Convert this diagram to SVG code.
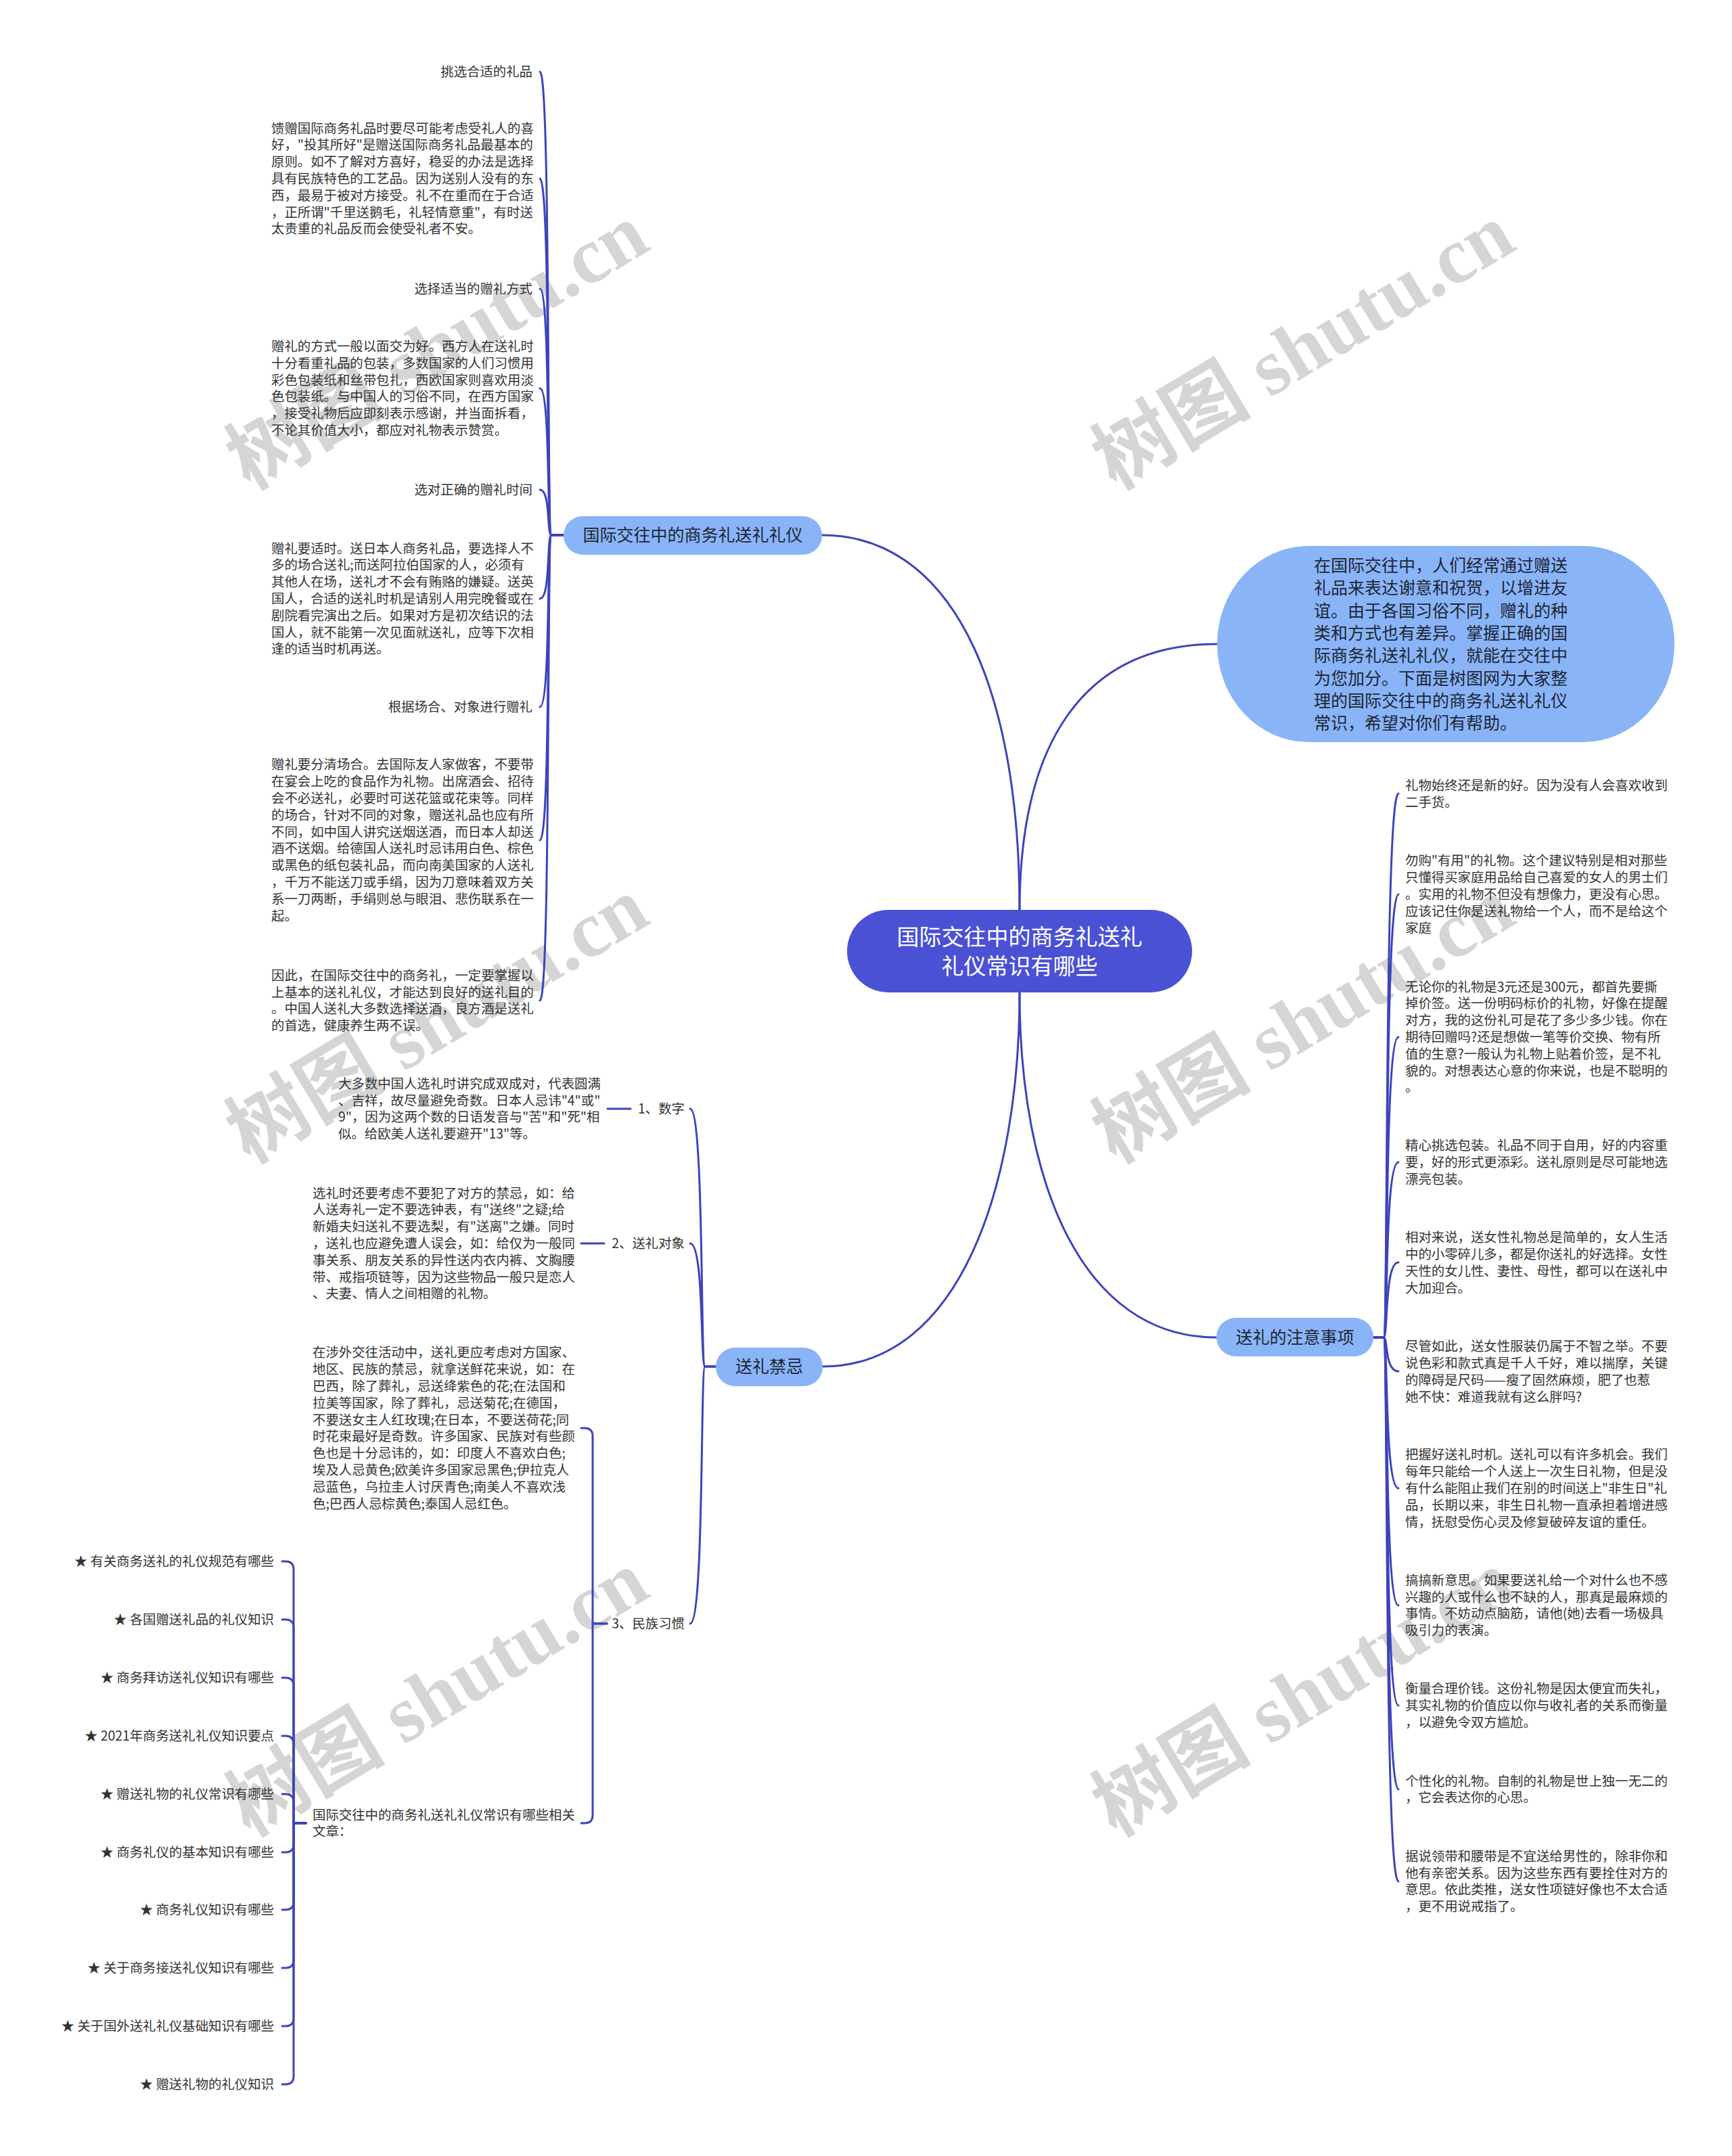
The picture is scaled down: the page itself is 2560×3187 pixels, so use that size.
<svg xmlns="http://www.w3.org/2000/svg" width="2560" height="3187" viewBox="0 0 2560 3187">
<style>
.wm{font-family:"Liberation Serif","Noto Sans CJK SC",serif;font-size:118px;font-weight:bold;fill:#d5d5d5;text-anchor:middle}
.ln{fill:none;stroke:#3d44bb;stroke-width:3;stroke-linecap:round;stroke-linejoin:round}
.t{font-family:"Noto Sans CJK SC","Liberation Sans",sans-serif;font-size:19.4px;fill:#333333}
.r{text-anchor:end}
.bn{fill:#8ab4f8}
.bt{font-family:"Noto Sans CJK SC","Liberation Sans",sans-serif;font-size:25px;fill:#1d2633;text-anchor:middle}
.ct{font-family:"Noto Sans CJK SC","Liberation Sans",sans-serif;font-size:33px;fill:#ffffff;text-anchor:middle}
.it{font-family:"Noto Sans CJK SC","Liberation Sans",sans-serif;font-size:25px;fill:#1d2633}
</style>
<rect width="2560" height="3187" fill="#ffffff"/>
<g id="watermarks">
<text class="wm" transform="translate(646,512) rotate(-31)" x="0" y="40">树图 shutu.cn</text>
<text class="wm" transform="translate(1926,512) rotate(-31)" x="0" y="40">树图 shutu.cn</text>
<text class="wm" transform="translate(646,1508) rotate(-31)" x="0" y="40">树图 shutu.cn</text>
<text class="wm" transform="translate(1926,1508) rotate(-31)" x="0" y="40">树图 shutu.cn</text>
<text class="wm" transform="translate(646,2503) rotate(-31)" x="0" y="40">树图 shutu.cn</text>
<text class="wm" transform="translate(1926,2503) rotate(-31)" x="0" y="40">树图 shutu.cn</text>
</g>
<g id="connectors">
<path class="ln" d="M1507,1346 C1507,1000 1400,791 1215,791"/>
<path class="ln" d="M1507,1346 C1507,1100 1600,952 1799,952"/>
<path class="ln" d="M1507,1467 C1507,1750 1420,2020 1216,2020"/>
<path class="ln" d="M1507,1467 C1507,1750 1600,1977 1798,1977"/>
<path class="ln" d="M833,791 H815 C808,791 814,106 798,106"/>
<path class="ln" d="M833,791 H815 C808,791 814,264 798,264"/>
<path class="ln" d="M833,791 H815 C808,791 814,427 798,427"/>
<path class="ln" d="M833,791 H815 C808,791 814,574 798,574"/>
<path class="ln" d="M833,791 H815 C808,791 814,724 798,724"/>
<path class="ln" d="M833,791 H815 C808,791 814,885 798,885"/>
<path class="ln" d="M833,791 H815 C808,791 814,1045 798,1045"/>
<path class="ln" d="M833,791 H815 C808,791 814,1242 798,1242"/>
<path class="ln" d="M833,791 H815 C808,791 814,1479 798,1479"/>
<path class="ln" d="M2030,1977 H2045 C2052,1977 2046,1173 2067,1173"/>
<path class="ln" d="M2030,1977 H2045 C2052,1977 2046,1322 2067,1322"/>
<path class="ln" d="M2030,1977 H2045 C2052,1977 2046,1533 2067,1533"/>
<path class="ln" d="M2030,1977 H2045 C2052,1977 2046,1718 2067,1718"/>
<path class="ln" d="M2030,1977 H2045 C2052,1977 2046,1866 2067,1866"/>
<path class="ln" d="M2030,1977 H2045 C2052,1977 2046,2027 2067,2027"/>
<path class="ln" d="M2030,1977 H2045 C2052,1977 2046,2200 2067,2200"/>
<path class="ln" d="M2030,1977 H2045 C2052,1977 2046,2373 2067,2373"/>
<path class="ln" d="M2030,1977 H2045 C2052,1977 2046,2521 2067,2521"/>
<path class="ln" d="M2030,1977 H2045 C2052,1977 2046,2645 2067,2645"/>
<path class="ln" d="M2030,1977 H2045 C2052,1977 2046,2781 2067,2781"/>
<path class="ln" d="M1058,2020 H1042 C1035,2020 1041,1639 1020,1639"/>
<path class="ln" d="M1058,2020 H1042 C1035,2020 1041,1838 1020,1838"/>
<path class="ln" d="M1058,2020 H1042 C1035,2020 1041,2400 1020,2400"/>
<path class="ln" d="M932,1639 H898"/>
<path class="ln" d="M893,1838 H859"/>
<path class="ln" d="M897,2400 H876 V2123 Q876,2111 864,2111 H859"/>
<path class="ln" d="M897,2400 H876 V2683 Q876,2695 864,2695 H859"/>
<path class="ln" d="M452,2695 H434 V2320 Q434,2308 422,2308 H417"/>
<path class="ln" d="M452,2695 H434 V2406 Q434,2394 422,2394 H417"/>
<path class="ln" d="M452,2695 H434 V2492 Q434,2480 422,2480 H417"/>
<path class="ln" d="M452,2695 H434 V2578 Q434,2566 422,2566 H417"/>
<path class="ln" d="M452,2695 H434 V2664 Q434,2652 422,2652 H417"/>
<path class="ln" d="M452,2695 H434 V2726 Q434,2738 422,2738 H417"/>
<path class="ln" d="M452,2695 H434 V2811 Q434,2823 422,2823 H417"/>
<path class="ln" d="M452,2695 H434 V2897 Q434,2909 422,2909 H417"/>
<path class="ln" d="M452,2695 H434 V2983 Q434,2995 422,2995 H417"/>
<path class="ln" d="M452,2695 H434 V3069 Q434,3081 422,3081 H417"/>
</g>
<g id="node-center">
<rect x="1252" y="1345" width="510" height="122" rx="61" fill="#4a51d4"/>
<text class="ct"><tspan x="1507" y="1397">国际交往中的商务礼送礼</tspan><tspan x="1507" y="1440">礼仪常识有哪些</tspan></text>
</g>
<g id="node-intro">
<rect x="1799" y="807" width="676" height="290" rx="135" ry="145" class="bn"/>
<text class="it"><tspan x="1942" y="845">在国际交往中，人们经常通过赠送</tspan><tspan x="1942" y="878.3">礼品来表达谢意和祝贺，以增进友</tspan><tspan x="1942" y="911.6">谊。由于各国习俗不同，赠礼的种</tspan><tspan x="1942" y="944.9">类和方式也有差异。掌握正确的国</tspan><tspan x="1942" y="978.2">际商务礼送礼礼仪，就能在交往中</tspan><tspan x="1942" y="1011.5">为您加分。下面是树图网为大家整</tspan><tspan x="1942" y="1044.8">理的国际交往中的商务礼送礼礼仪</tspan><tspan x="1942" y="1078.1">常识，希望对你们有帮助。</tspan></text>
</g>
<g id="node-b1">
<rect x="833" y="763" width="382" height="57" rx="28.5" class="bn"/>
<text class="bt" x="1024" y="800">国际交往中的商务礼送礼礼仪</text>
</g>
<g id="b1-c1"><text class="t r" x="787" y="113">挑选合适的礼品</text></g>
<g id="b1-c2"><text class="t"><tspan x="401" y="196.6">馈赠国际商务礼品时要尽可能考虑受礼人的喜</tspan><tspan x="401" y="221.4">好，"投其所好"是赠送国际商务礼品最基本的</tspan><tspan x="401" y="246.2">原则。如不了解对方喜好，稳妥的办法是选择</tspan><tspan x="401" y="271">具有民族特色的工艺品。因为送别人没有的东</tspan><tspan x="401" y="295.8">西，最易于被对方接受。礼不在重而在于合适</tspan><tspan x="401" y="320.6">，正所谓"千里送鹅毛，礼轻情意重"，有时送</tspan><tspan x="401" y="345.4">太贵重的礼品反而会使受礼者不安。</tspan></text></g>
<g id="b1-c3"><text class="t r" x="787" y="434">选择适当的赠礼方式</text></g>
<g id="b1-c4"><text class="t"><tspan x="401" y="519">赠礼的方式一般以面交为好。西方人在送礼时</tspan><tspan x="401" y="543.8">十分看重礼品的包装，多数国家的人们习惯用</tspan><tspan x="401" y="568.6">彩色包装纸和丝带包扎，西欧国家则喜欢用淡</tspan><tspan x="401" y="593.4">色包装纸。与中国人的习俗不同，在西方国家</tspan><tspan x="401" y="618.2">，接受礼物后应即刻表示感谢，并当面拆看，</tspan><tspan x="401" y="643">不论其价值大小，都应对礼物表示赞赏。</tspan></text></g>
<g id="b1-c5"><text class="t r" x="787" y="731">选对正确的赠礼时间</text></g>
<g id="b1-c6"><text class="t"><tspan x="401" y="817.6">赠礼要适时。送日本人商务礼品，要选择人不</tspan><tspan x="401" y="842.4">多的场合送礼;而送阿拉伯国家的人，必须有</tspan><tspan x="401" y="867.2">其他人在场，送礼才不会有贿赂的嫌疑。送英</tspan><tspan x="401" y="892">国人，合适的送礼时机是请别人用完晚餐或在</tspan><tspan x="401" y="916.8">剧院看完演出之后。如果对方是初次结识的法</tspan><tspan x="401" y="941.6">国人，就不能第一次见面就送礼，应等下次相</tspan><tspan x="401" y="966.4">逢的适当时机再送。</tspan></text></g>
<g id="b1-c7"><text class="t r" x="787" y="1052">根据场合、对象进行赠礼</text></g>
<g id="b1-c8"><text class="t"><tspan x="401" y="1137.4">赠礼要分清场合。去国际友人家做客，不要带</tspan><tspan x="401" y="1162.2">在宴会上吃的食品作为礼物。出席酒会、招待</tspan><tspan x="401" y="1187">会不必送礼，必要时可送花篮或花束等。同样</tspan><tspan x="401" y="1211.8">的场合，针对不同的对象，赠送礼品也应有所</tspan><tspan x="401" y="1236.6">不同，如中国人讲究送烟送酒，而日本人却送</tspan><tspan x="401" y="1261.4">酒不送烟。给德国人送礼时忌讳用白色、棕色</tspan><tspan x="401" y="1286.2">或黑色的纸包装礼品，而向南美国家的人送礼</tspan><tspan x="401" y="1311">，千万不能送刀或手绢，因为刀意味着双方关</tspan><tspan x="401" y="1335.8">系一刀两断，手绢则总与眼泪、悲伤联系在一</tspan><tspan x="401" y="1360.6">起。</tspan></text></g>
<g id="b1-c9"><text class="t"><tspan x="401" y="1448.8">因此，在国际交往中的商务礼，一定要掌握以</tspan><tspan x="401" y="1473.6">上基本的送礼礼仪，才能达到良好的送礼目的</tspan><tspan x="401" y="1498.4">。中国人送礼大多数选择送酒，良方酒是送礼</tspan><tspan x="401" y="1523.2">的首选，健康养生两不误。</tspan></text></g>
<g id="node-b2">
<rect x="1058" y="1992" width="158" height="57" rx="28.5" class="bn"/>
<text class="bt" x="1137" y="2029">送礼禁忌</text>
</g>
<g id="b2-c1"><text class="t r" x="1012" y="1646">1、数字</text></g>
<g id="b2-c1-p"><text class="t"><tspan x="500" y="1608.8">大多数中国人选礼时讲究成双成对，代表圆满</tspan><tspan x="500" y="1633.6">、吉祥，故尽量避免奇数。日本人忌讳"4"或"</tspan><tspan x="500" y="1658.4">9"，因为这两个数的日语发音与"苦"和"死"相</tspan><tspan x="500" y="1683.2">似。给欧美人送礼要避开"13"等。</tspan></text></g>
<g id="b2-c2"><text class="t r" x="1012" y="1845">2、送礼对象</text></g>
<g id="b2-c2-p"><text class="t"><tspan x="462" y="1770.6">选礼时还要考虑不要犯了对方的禁忌，如：给</tspan><tspan x="462" y="1795.4">人送寿礼一定不要选钟表，有"送终"之疑;给</tspan><tspan x="462" y="1820.2">新婚夫妇送礼不要选梨，有"送离"之嫌。同时</tspan><tspan x="462" y="1845">，送礼也应避免遭人误会，如：给仅为一般同</tspan><tspan x="462" y="1869.8">事关系、朋友关系的异性送内衣内裤、文胸腰</tspan><tspan x="462" y="1894.6">带、戒指项链等，因为这些物品一般只是恋人</tspan><tspan x="462" y="1919.4">、夫妻、情人之间相赠的礼物。</tspan></text></g>
<g id="b2-c3"><text class="t r" x="1012" y="2407">3、民族习惯</text></g>
<g id="b2-c3-p"><text class="t"><tspan x="462" y="2006.4">在涉外交往活动中，送礼更应考虑对方国家、</tspan><tspan x="462" y="2031.2">地区、民族的禁忌，就拿送鲜花来说，如：在</tspan><tspan x="462" y="2056">巴西，除了葬礼，忌送绛紫色的花;在法国和</tspan><tspan x="462" y="2080.8">拉美等国家，除了葬礼，忌送菊花;在德国，</tspan><tspan x="462" y="2105.6">不要送女主人红玫瑰;在日本，不要送荷花;同</tspan><tspan x="462" y="2130.4">时花束最好是奇数。许多国家、民族对有些颜</tspan><tspan x="462" y="2155.2">色也是十分忌讳的，如：印度人不喜欢白色;</tspan><tspan x="462" y="2180">埃及人忌黄色;欧美许多国家忌黑色;伊拉克人</tspan><tspan x="462" y="2204.8">忌蓝色，乌拉圭人讨厌青色;南美人不喜欢浅</tspan><tspan x="462" y="2229.6">色;巴西人忌棕黄色;泰国人忌红色。</tspan></text></g>
<g id="b2-c3-rel"><text class="t"><tspan x="462" y="2689.6">国际交往中的商务礼送礼礼仪常识有哪些相关</tspan><tspan x="462" y="2714.4">文章：</tspan></text></g>
<g id="rel-1"><text class="t r" x="405" y="2315">★ 有关商务送礼的礼仪规范有哪些</text></g>
<g id="rel-2"><text class="t r" x="405" y="2401">★ 各国赠送礼品的礼仪知识</text></g>
<g id="rel-3"><text class="t r" x="405" y="2487">★ 商务拜访送礼仪知识有哪些</text></g>
<g id="rel-4"><text class="t r" x="405" y="2573">★ 2021年商务送礼礼仪知识要点</text></g>
<g id="rel-5"><text class="t r" x="405" y="2659">★ 赠送礼物的礼仪常识有哪些</text></g>
<g id="rel-6"><text class="t r" x="405" y="2745">★ 商务礼仪的基本知识有哪些</text></g>
<g id="rel-7"><text class="t r" x="405" y="2830">★ 商务礼仪知识有哪些</text></g>
<g id="rel-8"><text class="t r" x="405" y="2916">★ 关于商务接送礼仪知识有哪些</text></g>
<g id="rel-9"><text class="t r" x="405" y="3002">★ 关于国外送礼礼仪基础知识有哪些</text></g>
<g id="rel-10"><text class="t r" x="405" y="3088">★ 赠送礼物的礼仪知识</text></g>
<g id="node-b3">
<rect x="1798" y="1948" width="232" height="57" rx="28.5" class="bn"/>
<text class="bt" x="1914" y="1986">送礼的注意事项</text>
</g>
<g id="b3-c1"><text class="t"><tspan x="2077" y="1168.1">礼物始终还是新的好。因为没有人会喜欢收到</tspan><tspan x="2077" y="1192.9">二手货。</tspan></text></g>
<g id="b3-c2"><text class="t"><tspan x="2077" y="1279.4">勿购"有用"的礼物。这个建议特别是相对那些</tspan><tspan x="2077" y="1304.2">只懂得买家庭用品给自己喜爱的女人的男士们</tspan><tspan x="2077" y="1329">。实用的礼物不但没有想像力，更没有心思。</tspan><tspan x="2077" y="1353.8">应该记住你是送礼物给一个人，而不是给这个</tspan><tspan x="2077" y="1378.6">家庭</tspan></text></g>
<g id="b3-c3"><text class="t"><tspan x="2077" y="1465.6">无论你的礼物是3元还是300元，都首先要撕</tspan><tspan x="2077" y="1490.4">掉价签。送一份明码标价的礼物，好像在提醒</tspan><tspan x="2077" y="1515.2">对方，我的这份礼可是花了多少多少钱。你在</tspan><tspan x="2077" y="1540">期待回赠吗?还是想做一笔等价交换、物有所</tspan><tspan x="2077" y="1564.8">值的生意?一般认为礼物上贴着价签，是不礼</tspan><tspan x="2077" y="1589.6">貌的。对想表达心意的你来说，也是不聪明的</tspan><tspan x="2077" y="1614.4">。</tspan></text></g>
<g id="b3-c4"><text class="t"><tspan x="2077" y="1700.2">精心挑选包装。礼品不同于自用，好的内容重</tspan><tspan x="2077" y="1725">要，好的形式更添彩。送礼原则是尽可能地选</tspan><tspan x="2077" y="1749.8">漂亮包装。</tspan></text></g>
<g id="b3-c5"><text class="t"><tspan x="2077" y="1836.3">相对来说，送女性礼物总是简单的，女人生活</tspan><tspan x="2077" y="1861.1">中的小零碎儿多，都是你送礼的好选择。女性</tspan><tspan x="2077" y="1885.9">天性的女儿性、妻性、母性，都可以在送礼中</tspan><tspan x="2077" y="1910.7">大加迎合。</tspan></text></g>
<g id="b3-c6"><text class="t"><tspan x="2077" y="1997.3">尽管如此，送女性服装仍属于不智之举。不要</tspan><tspan x="2077" y="2022.1">说色彩和款式真是千人千好，难以揣摩，关键</tspan><tspan x="2077" y="2046.9">的障碍是尺码——瘦了固然麻烦，肥了也惹</tspan><tspan x="2077" y="2071.7">她不快：难道我就有这么胖吗?</tspan></text></g>
<g id="b3-c7"><text class="t"><tspan x="2077" y="2157.4">把握好送礼时机。送礼可以有许多机会。我们</tspan><tspan x="2077" y="2182.2">每年只能给一个人送上一次生日礼物，但是没</tspan><tspan x="2077" y="2207">有什么能阻止我们在别的时间送上"非生日"礼</tspan><tspan x="2077" y="2231.8">品，长期以来，非生日礼物一直承担着增进感</tspan><tspan x="2077" y="2256.6">情，抚慰受伤心灵及修复破碎友谊的重任。</tspan></text></g>
<g id="b3-c8"><text class="t"><tspan x="2077" y="2342.8">搞搞新意思。如果要送礼给一个对什么也不感</tspan><tspan x="2077" y="2367.6">兴趣的人或什么也不缺的人，那真是最麻烦的</tspan><tspan x="2077" y="2392.4">事情。不妨动点脑筋，请他(她)去看一场极具</tspan><tspan x="2077" y="2417.2">吸引力的表演。</tspan></text></g>
<g id="b3-c9"><text class="t"><tspan x="2077" y="2503.2">衡量合理价钱。这份礼物是因太便宜而失礼，</tspan><tspan x="2077" y="2528">其实礼物的价值应以你与收礼者的关系而衡量</tspan><tspan x="2077" y="2552.8">，以避免令双方尴尬。</tspan></text></g>
<g id="b3-c10"><text class="t"><tspan x="2077" y="2639.6">个性化的礼物。自制的礼物是世上独一无二的</tspan><tspan x="2077" y="2664.4">，它会表达你的心思。</tspan></text></g>
<g id="b3-c11"><text class="t"><tspan x="2077" y="2750.8">据说领带和腰带是不宜送给男性的，除非你和</tspan><tspan x="2077" y="2775.6">他有亲密关系。因为这些东西有要拴住对方的</tspan><tspan x="2077" y="2800.4">意思。依此类推，送女性项链好像也不太合适</tspan><tspan x="2077" y="2825.2">，更不用说戒指了。</tspan></text></g>
</svg>
